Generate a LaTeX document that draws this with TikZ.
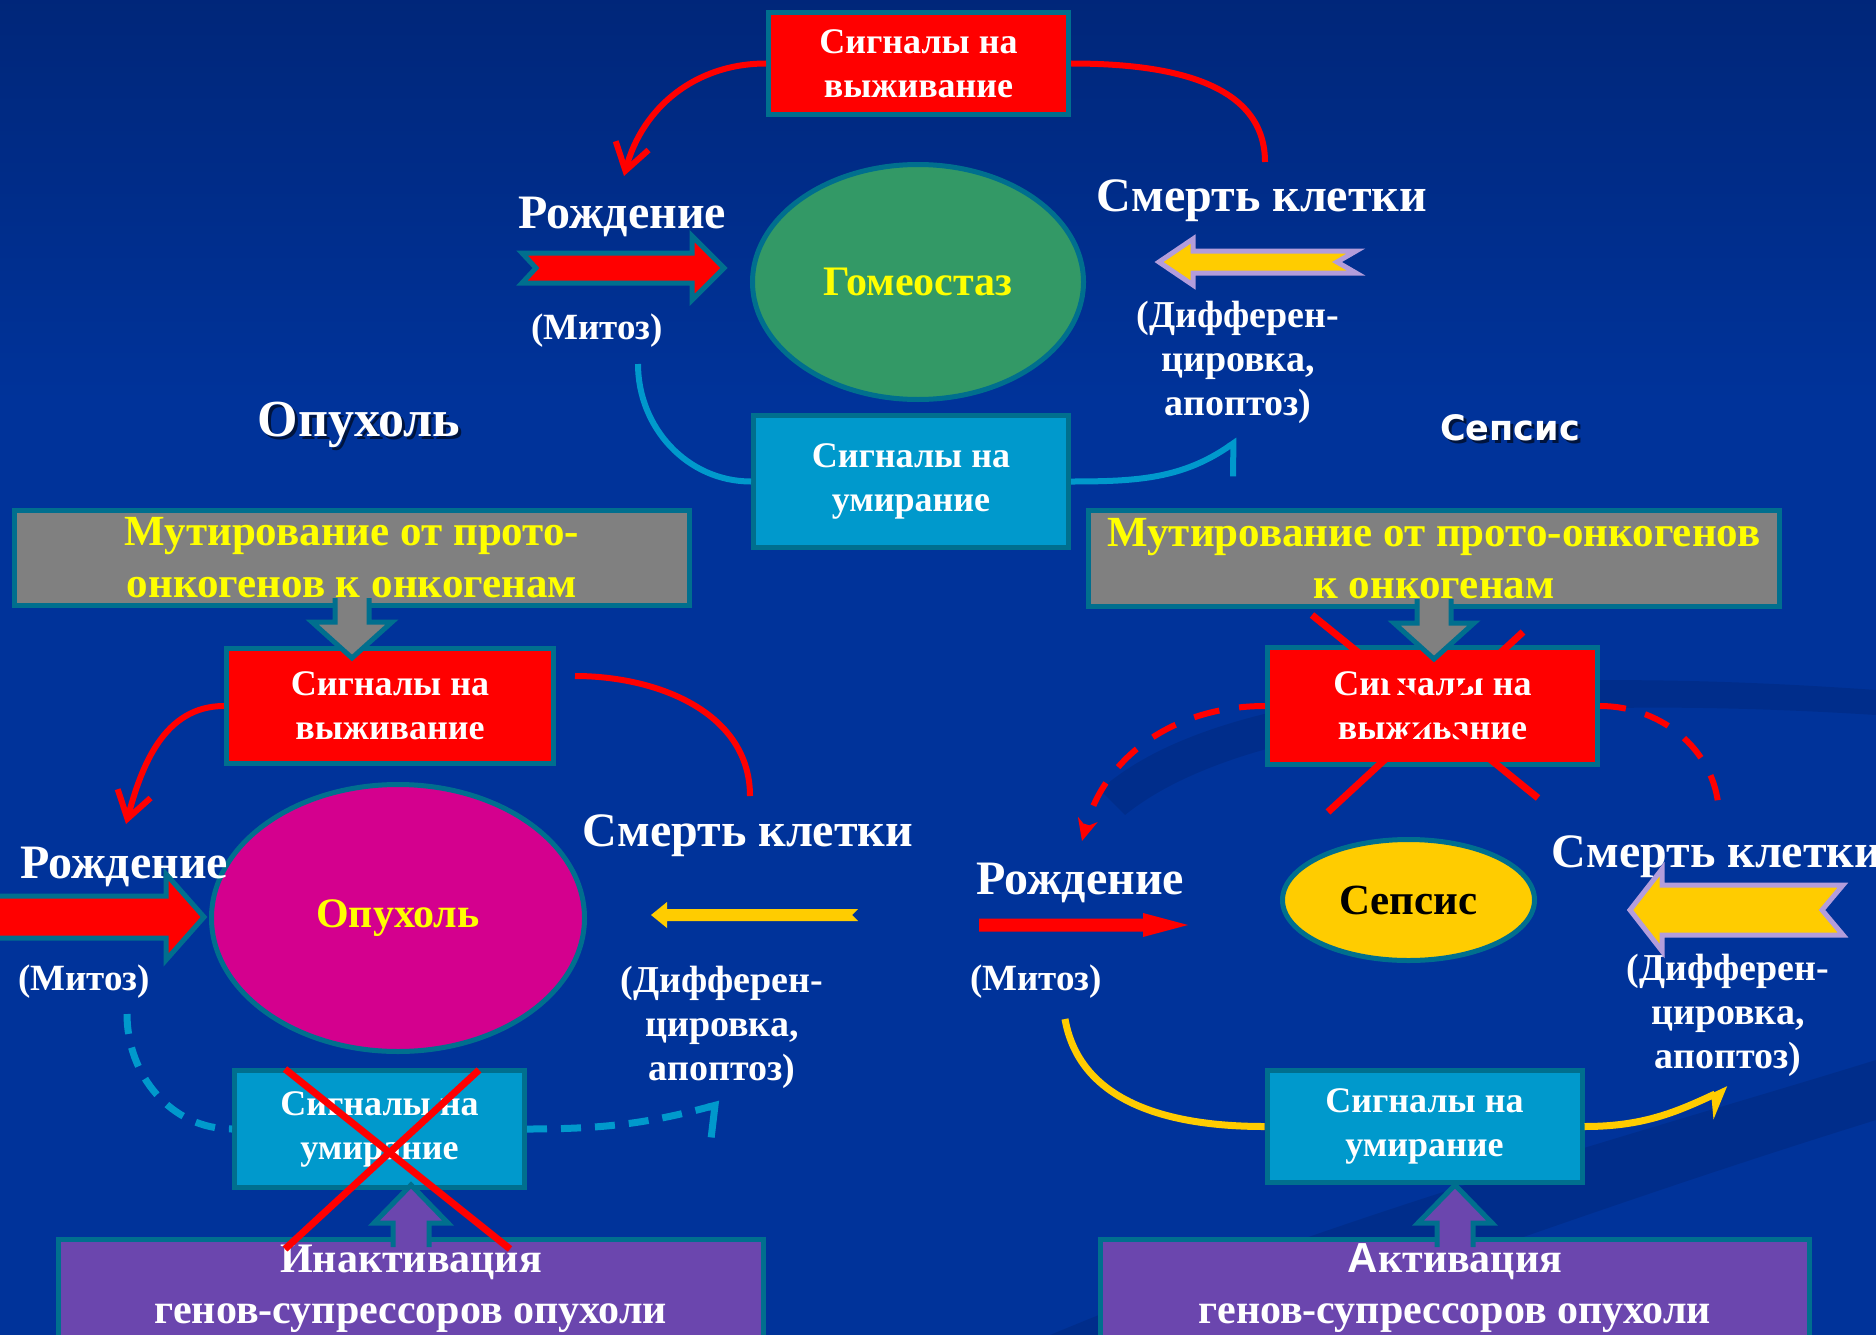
\documentclass[tikz,border=0pt]{standalone}
\usepackage{fontspec}
\setmainfont{Liberation Serif}
\setsansfont{Liberation Sans}
\newfontfamily\headsans{DejaVu Sans}
\usetikzlibrary{shapes.geometric, arrows.meta, positioning}

\definecolor{bgtop}{HTML}{000820}
\definecolor{bgmid}{HTML}{001E64}
\definecolor{bgblue}{HTML}{00339A}
\definecolor{boxline}{HTML}{006F8E}
\definecolor{sigred}{HTML}{FF0000}
\definecolor{sigblue}{HTML}{0099CC}
\definecolor{homeogreen}{HTML}{339966}
\definecolor{tumormag}{HTML}{D4008E}
\definecolor{sepsisyel}{HTML}{FFCC00}
\definecolor{mutgray}{HTML}{808080}
\definecolor{mutyellow}{HTML}{FFFF00}
\definecolor{genepurple}{HTML}{6B46AE}
\definecolor{lavender}{HTML}{B39DDB}

\pgfdeclareverticalshading{slidebg}{100bp}{color(0bp)=(bgblue); color(60bp)=(bgblue); color(85bp)=(bgmid); color(100bp)=(bgtop)}

\tikzset{
  box/.style={rectangle, draw=boxline, line width=5pt, text=white, align=center, inner sep=0pt, font=\bfseries\fontsize{36}{44}\selectfont},
  survbox/.style={box, fill=sigred},
  diebox/.style={box, fill=sigblue},
  mutbox/.style={box, fill=mutgray, text=mutyellow, font=\bfseries\fontsize{43}{52}\selectfont},
  genebox/.style={box, fill=genepurple, font=\bfseries\fontsize{42}{51}\selectfont},
  cell/.style={ellipse, draw=boxline, line width=5pt, inner sep=0pt, font=\bfseries\fontsize{42}{48}\selectfont},
  lbl/.style={text=white, inner sep=0pt, font=\bfseries\fontsize{48}{54}\selectfont},
  mitos/.style={text=white, inner sep=0pt, font=\bfseries\fontsize{37}{44}\selectfont},
  diff/.style={text=white, inner sep=0pt, align=center, font=\bfseries\fontsize{38}{44}\selectfont},
  redline/.style={draw=sigred, line width=6pt},
  blueline/.style={draw=sigblue, line width=6pt},
  yelline/.style={draw=sepsisyel, line width=7pt},
  crossline/.style={draw=sigred, line width=7pt},
  birtharrow/.style={fill=sigred, draw=boxline, line width=5pt},
  deatharrow/.style={fill=sepsisyel, draw=lavender, line width=5pt},
  mutarrow/.style={fill=mutgray, draw=boxline, line width=5pt},
  genearrow/.style={fill=genepurple, draw=boxline, line width=5pt},
  swirl/.style={fill=bgtop, opacity=.12},
}

\begin{document}
\begin{tikzpicture}[x=1pt, y=1pt]
  \useasboundingbox (0,-1335) rectangle (1876,0);
  \clip (0,-1335) rectangle (1876,0);
  \shade[shading=slidebg] (0,-1335) rectangle (1876,0);

  % background swirls
  \fill[swirl] (1100,-790) .. controls (1200,-700) and (1450,-660) .. (1876,-690)
    -- (1876,-715) .. controls (1480,-690) and (1230,-730) .. (1125,-815) -- cycle;
  \fill[swirl] (1050,-1335) .. controls (1350,-1210) and (1650,-1130) .. (1876,-1060)
    -- (1876,-1120) .. controls (1650,-1190) and (1400,-1280) .. (1250,-1335) -- cycle;

  % homeostasis
  \node[survbox, minimum width=300, minimum height=102] (survTop) at (918.5,-63.5) {Сигналы на\\выживание};
  \node[cell, fill=homeogreen, text=mutyellow, minimum width=331, minimum height=235] (homeo) at (918,-282) {Гомеостаз};
  \node[lbl] (birthTop) at (622,-217) {Рождение};
  \node[mitos] (mitosTop) at (597,-331) {(Митоз)};
  \node[lbl] (deathTop) at (1262,-201) {Смерть клетки};
  \node[diff] (diffTop) at (1238,-362) {(Дифферен-\\цировка,\\апоптоз)};
  \node[diebox, minimum width=315, minimum height=132] (dieTop) at (911,-481.5) {Сигналы на\\умирание};

  \coordinate (birthTopIn) at (624,-176);
  \coordinate (deathTopOut) at (1265,-162);
  \coordinate (mitosTopOut) at (638,-364);
  \coordinate (diffTopIn) at (1238,-440);

  \draw[redline, -{Straight Barb[length=26pt,width=34pt]}] (survTop.west) to[out=180, in=75] (birthTopIn);
  \draw[redline] (survTop.east) to[out=0, in=90] (deathTopOut);
  \draw[blueline] (mitosTopOut) to[out=-90, in=180] (dieTop.west);
  \draw[blueline, -{Straight Barb[harpoon, swap, length=19pt, width=54pt]}] (dieTop.east) to[out=0, in=215] (diffTopIn);

  \draw[birtharrow] (522,-253) -- (692,-253) -- (692,-236) -- (724,-268) -- (692,-300) -- (692,-283) -- (522,-283) -- (536,-268) -- cycle;
  \draw[deatharrow] (1356,-251) -- (1193,-251) -- (1193,-239) -- (1159,-262) -- (1193,-285) -- (1193,-273) -- (1356,-273) -- (1337,-262) -- cycle;

  % titles
  \node[text=black, opacity=.6, font=\bfseries\fontsize{52}{60}\selectfont] (tumorTitleShade) at (362,-428) {Опухоль};
  \node[text=white, font=\bfseries\fontsize{52}{60}\selectfont] (tumorTitle) at (359,-425) {Опухоль};
  \node[text=black, opacity=.6, font=\headsans\bfseries\fontsize{35}{42}\selectfont] (sepsisTitleShade) at (1513,-431) {Сепсис};
  \node[text=white, font=\headsans\bfseries\fontsize{35}{42}\selectfont] (sepsisTitle) at (1510,-428) {Сепсис};

  % tumour
  \node[mutbox, minimum width=675, minimum height=95] (mutL) at (352,-558) {Мутирование от прото-\\онкогенов к онкогенам};
  \node[survbox, minimum width=327, minimum height=115] (survL) at (390,-706) {Сигналы на\\выживание};
  \node[cell, fill=tumormag, text=mutyellow, minimum width=373, minimum height=267] (tumor) at (398,-918) {Опухоль};
  \node[lbl] (birthL) at (124,-867) {Рождение};
  \node[mitos] (mitosL) at (84,-982) {(Митоз)};
  \node[lbl] (deathL) at (748,-836) {Смерть клетки};
  \node[diff] (diffL) at (722,-1027) {(Дифферен-\\цировка,\\апоптоз)};
  \node[diebox, minimum width=290, minimum height=117] (dieL) at (379.5,-1129) {Сигналы на\\умирание};
  \node[genebox, minimum width=705, minimum height=98] (geneL) at (411,-1288.5) {Инактивация\\генов-супрессоров опухоли};

  \coordinate (birthLIn) at (126,-824);
  \coordinate (survLOut) at (575,-676);
  \coordinate (deathLOut) at (750,-796);
  \coordinate (mitosLOut) at (127,-1014);
  \coordinate (diffLIn) at (720,-1104);

  \draw[redline, -{Straight Barb[length=26pt,width=34pt]}] (survL.west) to[out=180, in=75] (birthLIn);
  \draw[redline] (survLOut) to[out=0, in=90] (deathLOut);
  \draw[blueline, line width=7pt, dash pattern=on 20pt off 14pt] (mitosLOut) to[out=-90, in=180] (dieL.west);
  \draw[blueline, line width=7pt, dash pattern=on 20pt off 14pt, -{Straight Barb[harpoon, swap, length=12pt, width=60pt]}] (dieL.east) to[out=0, in=195] (diffLIn);

  \draw[mutarrow] ([xshift=-17pt, yshift=10pt]mutL.south) -- ++(0,-24) -- ++(-23,0) -- ++(40,-36) -- ++(40,36) -- ++(-23,0) -- ++(0,24);
  \draw[genearrow] ([xshift=-18pt, yshift=-10pt]geneL.north) -- ++(0,24) -- ++(-19,0) -- ++(37,38) -- ++(37,-38) -- ++(-19,0) -- ++(0,-24);
  \draw[birtharrow] (-20,-896) -- (166,-896) -- (166,-874) -- (204,-917) -- (166,-960) -- (166,-938) -- (-20,-938) -- cycle;
  \fill[sepsisyel] (858,-909) -- (667,-909) -- (667,-902) -- (651,-915) -- (667,-928) -- (667,-921) -- (858,-921) -- (852,-915) -- cycle;

  \draw[crossline] (285,-1069) -- (510,-1249);
  \draw[crossline] (479,-1070) -- (285,-1249);

  % sepsis
  \node[mutbox, minimum width=691, minimum height=96] (mutR) at (1434,-558.5) {Мутирование от прото-онкогенов\\к онкогенам};
  \node[survbox, minimum width=330, minimum height=117] (survR) at (1432.5,-706) {Сигналы на\\выживание};
  \node[cell, fill=sepsisyel, text=black, font=\bfseries\fontsize{43}{50}\selectfont, minimum width=252, minimum height=121] (sepsis) at (1408.5,-900) {Сепсис};
  \node[lbl] (birthR) at (1080,-883) {Рождение};
  \node[mitos] (mitosR) at (1036,-982) {(Митоз)};
  \node[lbl] (deathR) at (1717,-857) {Смерть клетки};
  \node[diff] (diffR) at (1728,-1015) {(Дифферен-\\цировка,\\апоптоз)};
  \node[diebox, minimum width=315, minimum height=112] (dieR) at (1424.5,-1126.5) {Сигналы на\\умирание};
  \node[genebox, minimum width=709, minimum height=98] (geneR) at (1455,-1288.5) {{\sffamily А}ктивация\\генов-супрессоров опухоли};

  \coordinate (birthRIn) at (1082,-841);
  \coordinate (deathROut) at (1719,-817);
  \coordinate (mitosROut) at (1065,-1019);
  \coordinate (diffRIn) at (1728,-1088);

  \draw[redline, dash pattern=on 26pt off 20pt, -{Stealth[length=22pt, width=20pt]}] (survR.west) to[out=180, in=75] (birthRIn);
  \draw[redline, dash pattern=on 26pt off 20pt] (survR.east) to[out=0, in=90] (deathROut);
  \draw[yelline] (mitosROut) to[out=-80, in=180] (dieR.west);
  \draw[yelline, -{Stealth[harpoon, swap, length=24pt, width=44pt]}] (dieR.east) to[out=0, in=205] (diffRIn);

  \draw[mutarrow] ([xshift=-17pt, yshift=10pt]mutR.south) -- ++(0,-24) -- ++(-23,0) -- ++(40,-36) -- ++(40,36) -- ++(-23,0) -- ++(0,24);
  \draw[genearrow] ([xshift=-18pt, yshift=-10pt]geneR.north) -- ++(0,24) -- ++(-19,0) -- ++(37,38) -- ++(37,-38) -- ++(-19,0) -- ++(0,-24);
  \fill[sigred] (979,-918.5) -- (1143,-918.5) -- (1143,-913) -- (1188,-925) -- (1143,-937) -- (1143,-931.5) -- (979,-931.5) -- cycle;
  \draw[deatharrow] (1843,-885) -- (1662,-885) -- (1662,-869) -- (1630,-910) -- (1662,-951) -- (1662,-935) -- (1843,-935) -- (1822,-910) -- cycle;

  \draw[crossline] (1312,-615) -- (1538,-798);
  \draw[crossline] (1523,-632) -- (1328,-812);
\end{tikzpicture}
\end{document}
